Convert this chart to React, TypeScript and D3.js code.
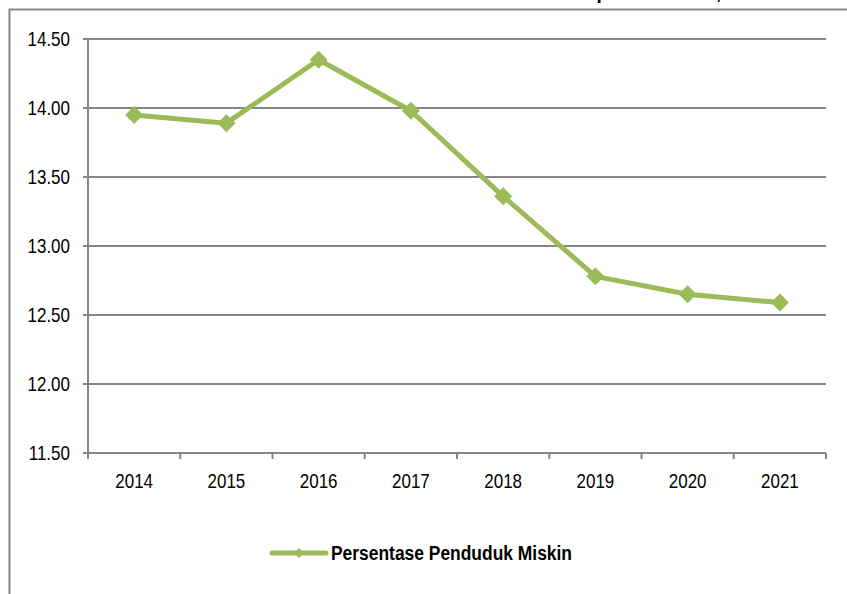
import React, { useLayoutEffect, useRef, useState } from "react";
import * as d3 from "d3";

const years = ["2014", "2015", "2016", "2017", "2018", "2019", "2020", "2021"];
const values = [13.95, 13.89, 14.35, 13.98, 13.36, 12.78, 12.65, 12.59];
const yTicks = [11.5, 12.0, 12.5, 13.0, 13.5, 14.0, 14.5];
const seriesName = "Persentase Penduduk Miskin";
const titleText = "Persentase Penduduk Miskin Kabupaten Kendal, 2014-2021";

const W = 847;
const H = 594;
const M = { left: 88, right: 826, top: 39, bottom: 453 };
const GREEN = "#9BBB59";
const GREY = "#868686";
const FONT = "'Liberation Sans', Arial, sans-serif";
const SX = 0.85;

function NarrowText(props: {
  x: number;
  y: number;
  anchor?: "start" | "middle" | "end";
  size: number;
  bold?: boolean;
  children: React.ReactNode;
}) {
  return (
    <text
      transform={`translate(${props.x},${props.y}) scale(${SX},1)`}
      textAnchor={props.anchor || "start"}
      fontFamily={FONT}
      fontSize={props.size}
      fontWeight={props.bold ? "bold" : "normal"}
      fill="#000"
    >
      {props.children}
    </text>
  );
}

export default function App() {
  const titleRef = useRef<SVGTextElement>(null);
  const [titleX, setTitleX] = useState(300);
  const [titleSize, setTitleSize] = useState(19);

  useLayoutEffect(() => {
    const el = titleRef.current;
    if (!el) return;
    try {
      const pIdx = titleText.indexOf("Kabupaten") + 3;
      const cIdx = titleText.indexOf(",");
      const p = el.getStartPositionOfChar(pIdx).x;
      const c = el.getStartPositionOfChar(cIdx).x;
      const dist = c - p;
      const wanted = 716 - 585;
      if (Math.abs(dist - wanted) > 0.5 && dist > 0) {
        setTitleSize((s) => (s * wanted) / dist);
        return;
      }
      const shift = 585 - p;
      if (Math.abs(shift) > 0.5) setTitleX((x) => x + shift);
    } catch (e) {
      /* ignore */
    }
  }, [titleSize, titleX]);

  const x = d3.scaleBand<string>().domain(years).range([M.left, M.right]);
  const y = d3.scaleLinear().domain([11.5, 14.5]).range([M.bottom, M.top]);
  const cx = (d: string) => (x(d) as number) + x.bandwidth() / 2;
  const line = d3
    .line<number>()
    .x((_, i) => cx(years[i]))
    .y((v) => y(v));
  const diamond = (px: number, py: number, r: number) =>
    `M${px},${py - r}L${px + r},${py}L${px},${py + r}L${px - r},${py}Z`;
  const boundaries = years.map((d) => x(d) as number).concat([M.right]);

  return (
    <svg
      width={W}
      height={H}
      style={{ position: "absolute", left: 0, top: 0, background: "#fff" }}
    >
      <rect x={0} y={0} width={W} height={H} fill="#fff" />
      <text
        ref={titleRef}
        x={titleX}
        y={-1}
        fontFamily={FONT}
        fontWeight="bold"
        fontSize={titleSize}
        fill="#000"
      >
        {titleText}
      </text>
      {/* outer frame */}
      <path d={`M9.5,${H + 5}V9.5H${W + 5}`} fill="none" stroke={GREY} strokeWidth={2} />
      {/* gridlines */}
      {yTicks.map((t) => (
        <line
          key={t}
          x1={M.left - 5}
          x2={M.right}
          y1={y(t)}
          y2={y(t)}
          stroke={GREY}
          strokeWidth={2}
        />
      ))}
      {/* y axis */}
      <line x1={M.left} x2={M.left} y1={M.top} y2={M.bottom} stroke={GREY} strokeWidth={2} />
      {yTicks.map((t) => (
        <NarrowText key={"l" + t} x={70} y={y(t) + 7} anchor="end" size={20}>
          {d3.format(".2f")(t)}
        </NarrowText>
      ))}
      {/* x axis ticks */}
      {boundaries.map((b, i) => (
        <line key={"b" + i} x1={b} x2={b} y1={M.bottom} y2={M.bottom + 6} stroke={GREY} strokeWidth={2} />
      ))}
      {years.map((d) => (
        <NarrowText key={d} x={cx(d)} y={488} anchor="middle" size={20}>
          {d}
        </NarrowText>
      ))}
      {/* series */}
      <path
        d={line(values) || ""}
        fill="none"
        stroke={GREEN}
        strokeWidth={5}
        strokeLinejoin="round"
      />
      {values.map((v, i) => (
        <path key={"m" + i} d={diamond(cx(years[i]), y(v), 9)} fill={GREEN} />
      ))}
      {/* legend */}
      <line x1={272} x2={326} y1={553} y2={553} stroke={GREEN} strokeWidth={5} strokeLinecap="round" />
      <path d={diamond(299, 553, 5)} fill={GREEN} />
      <NarrowText x={331} y={560} size={20.5} bold>
        {seriesName}
      </NarrowText>
    </svg>
  );
}
